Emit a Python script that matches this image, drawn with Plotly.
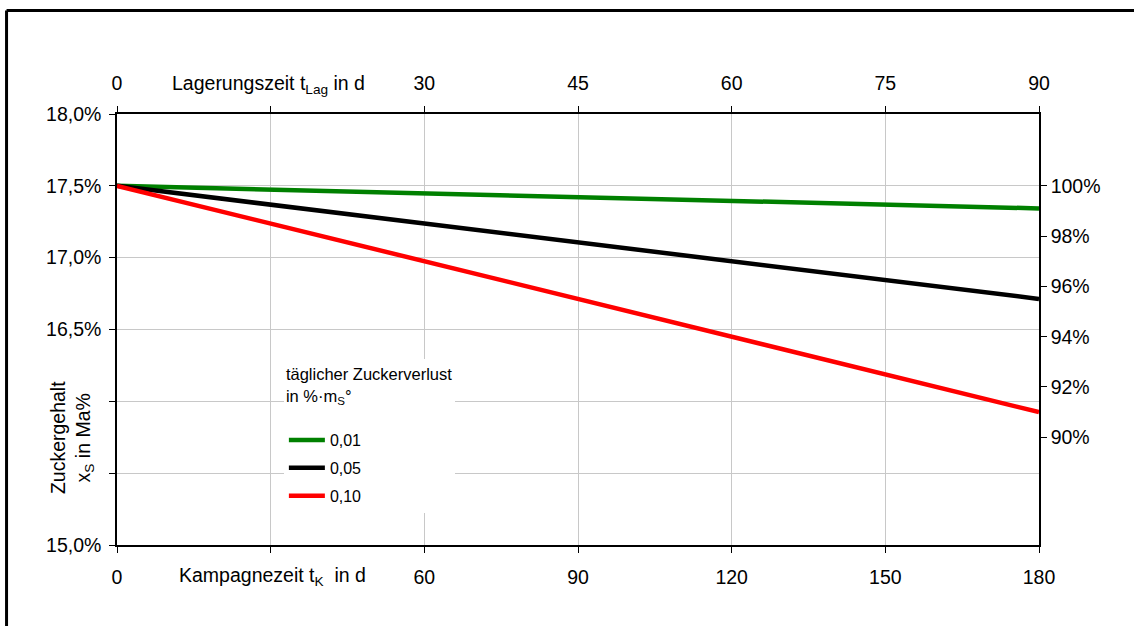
import plotly.graph_objects as go

# Kampagnezeit (bottom axis) and Lagerungszeit (top axis) in days
kampagne_tage = [0, 30, 60, 90, 120, 150, 180]
lager_tage = [0, 15, 30, 45, 60, 75, 90]

# sugar content in Ma% for each daily loss rate
verlust_labels = ['0,01', '0,05', '0,10']
zucker_001 = [17.50, 17.474, 17.448, 17.421, 17.395, 17.369, 17.343]
zucker_005 = [17.50, 17.369, 17.238, 17.106, 16.975, 16.844, 16.713]
zucker_010 = [17.50, 17.238, 16.975, 16.713, 16.450, 16.188, 15.925]

y_left_ticks = [15.0, 15.5, 16.0, 16.5, 17.0, 17.5, 18.0]
y_left_text = ['15,0%', '', '', '16,5%', '17,0%', '17,5%', '18,0%']
y_right_ticks = [90, 92, 94, 96, 98, 100]
x_bottom_text = ['0', '', '60', '90', '120', '150', '180']
x_top_text = ['0', '', '30', '45', '60', '75', '90']

farben = ['#008000', '#000000', '#ff0000']
font = 'Liberation Sans, Arial, sans-serif'
fs = 19.5

fig = go.Figure()

for lbl, werte, farbe in zip(verlust_labels, [zucker_001, zucker_005, zucker_010], farben):
    fig.add_trace(go.Scatter(
        x=kampagne_tage, y=werte, mode='lines', name=lbl, legendgroup=lbl,
        line=dict(color=farbe, width=4.5)
    ))

# invisible helper traces so the top and right axes get drawn
fig.add_trace(go.Scatter(x=lager_tage, y=zucker_001, xaxis='x2', yaxis='y',
                         mode='lines', line=dict(width=0), showlegend=False, hoverinfo='skip'))
fig.add_trace(go.Scatter(x=kampagne_tage, y=[100] * 7, xaxis='x', yaxis='y2',
                         mode='lines', line=dict(width=0), showlegend=False, hoverinfo='skip'))

axis_common = dict(showline=True, linecolor='black', linewidth=1.5, ticks='outside',
                   ticklen=6, tickcolor='black', tickfont=dict(size=fs, color='black'),
                   zeroline=False)

fig.update_layout(
    width=1134, height=626,
    margin=dict(l=117, r=95, t=114, b=81),
    paper_bgcolor='white', plot_bgcolor='white',
    font=dict(family=font, size=fs, color='black'),
    showlegend=True,
    xaxis=dict(range=[0, 180], tickvals=kampagne_tage, ticktext=x_bottom_text,
               showgrid=True, gridcolor='#c8c8c8', gridwidth=1,
               ticklabelstandoff=8, **axis_common),
    xaxis2=dict(range=[0, 90], tickvals=lager_tage, ticktext=x_top_text,
                overlaying='x', side='top', showgrid=False,
                ticklabelstandoff=8, **axis_common),
    yaxis=dict(range=[15, 18], tickvals=y_left_ticks, ticktext=y_left_text,
               showgrid=True, gridcolor='#c8c8c8', gridwidth=1,
               ticklabelstandoff=4, **axis_common),
    yaxis2=dict(range=[15 / 17.5 * 100, 18 / 17.5 * 100], tickvals=y_right_ticks,
                ticktext=[f'{v}%' for v in y_right_ticks],
                overlaying='y', side='right', showgrid=False, **axis_common),
    legend=dict(
        x=0.181, y=0.432, xanchor='left', yanchor='top',
        bgcolor='white', borderwidth=0,
        title=dict(text='täglicher Zuckerverlust<br>in %·m<sub>S</sub>°<br> ',
                   font=dict(size=16.5)),
        font=dict(size=16), itemwidth=36,
        traceorder='grouped', tracegroupgap=4,
    ),
    annotations=[
        dict(text='Zuckergehalt<br>x<sub>S</sub> in Ma%', textangle=-90,
             x=-0.0488, y=0.248, xref='paper', yref='paper', showarrow=False,
             xanchor='center', yanchor='middle', font=dict(size=fs)),
        dict(text='Lagerungszeit t<sub>Lag</sub> in d', x=0.164, y=1.0696,
             xref='paper', yref='paper', showarrow=False,
             xanchor='center', yanchor='middle', font=dict(size=fs)),
        dict(text='Kampagnezeit t<sub>K</sub>  in d', x=0.169, y=-0.072,
             xref='paper', yref='paper', showarrow=False,
             xanchor='center', yanchor='middle', font=dict(size=fs)),
    ],
    shapes=[
        # outer frame (only left and top edges visible)
        dict(type='line', xref='paper', yref='paper', x0=-0.1198, x1=-0.1198,
             y0=-0.25, y1=1.240, line=dict(color='black', width=3)),
        dict(type='line', xref='paper', yref='paper', x0=-0.1198, x1=1.2,
             y0=1.240, y1=1.240, line=dict(color='black', width=3)),
    ],
)

fig.write_html("out.html", config={'displayModeBar': False},
               post_script="document.body.style.margin = '0';")
